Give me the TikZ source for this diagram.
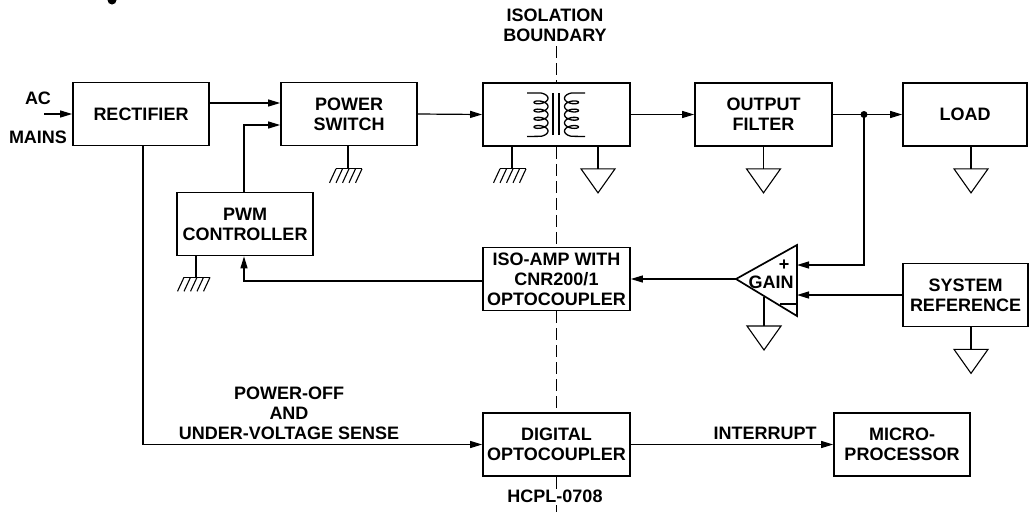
\documentclass[tikz,border=0pt]{standalone}
\usepackage{fontspec}
\setmainfont{Liberation Sans}
\usetikzlibrary{arrows.meta}
\tikzset{
  blockbox/.style={draw,line width=1.7pt,minimum height=63pt,inner sep=0pt,align=center,font=\labelfont},
  lab/.style={inner sep=0pt,align=center,font=\labelfont},
  sig/.style={line width=1.2pt,-{Triangle[length=12pt,width=7pt]}},
  wire/.style={line width=1.2pt},
  isoline/.style={line width=1pt,dash pattern=on 12pt off 5pt},
  trignd/.pic={\draw[line width=1.1pt] (-17,0) -- (17,0) -- (0,24) -- cycle;},
  hatchgnd/.pic={\draw[line width=1.2pt] (-12,0) -- (14,0);
    \foreach \xo in {-12,-5.5,1,7.5,14} \draw[line width=1.1pt] (\xo,0) -- ++(-6.5,14);}
}
\newcommand{\labelfont}{\fontsize{18}{20}\selectfont\bfseries}
\begin{document}
\begin{tikzpicture}[x=1pt,y=-1pt]
\useasboundingbox (0,0) rectangle (1031,512);
\fill (112,0) circle (4.5);
\node[blockbox,minimum width=136pt] (rect) at (141,114) {RECTIFIER};
\node[blockbox,minimum width=136pt] (sw) at (349,114) {POWER\\SWITCH};
\node[blockbox,minimum width=147pt] (xfmr) at (556.5,114.5) {};
\node[blockbox,minimum width=137pt] (filt) at (763.5,114.5) {OUTPUT\\FILTER};
\node[blockbox,minimum width=124pt] (load) at (965,114.5) {LOAD};
\node[blockbox,minimum width=136pt] (pwm) at (245,224) {PWM\\CONTROLLER};
\node[blockbox,minimum width=147pt] (iso) at (556.5,279) {ISO-AMP WITH\\CNR200/1\\OPTOCOUPLER};
\node[blockbox,minimum width=125pt] (ref) at (965.5,295) {SYSTEM\\REFERENCE};
\node[blockbox,minimum width=147pt] (dig) at (556.5,444.5) {DIGITAL\\OPTOCOUPLER};
\node[blockbox,minimum width=136pt] (micro) at (902,444.5) {MICRO-\\PROCESSOR};
% labels
\node[lab] (ac) at (38,98) {AC};
\node[lab] (mains) at (38,137) {MAINS};
\node[lab] (bound) at (555,25) {ISOLATION\\BOUNDARY};
\node[lab] (hcpl) at (555,496) {HCPL-0708};
\node[lab] (poweroff) at (289,413) {POWER-OFF\\AND\\UNDER-VOLTAGE SENSE};
\node[lab] (intr) at (765,433) {INTERRUPT};
% isolation boundary
\coordinate (isotop) at (556,46);
\coordinate (isobot) at (556,512);
\coordinate (isolow) at (556,505);
\draw[isoline] (isotop) -- (isotop |- xfmr.north);
\draw[isoline] (isotop |- xfmr.south) -- (isotop |- iso.north);
\draw[isoline] (isotop |- iso.south) -- (isotop |- dig.north);
\draw[isoline] (isotop |- dig.south) -- ++(0,12);
\draw[isoline] (isolow) -- (isobot);
% transformer
\draw[line width=1.3pt] (527,93) -- (541,93) plot[smooth,samples=109,domain=-90:1530,variable=\t]
  ({541+7*cos(\t)},{93+8.2*(\t+90)/360+3.2*(sin(\t)+1)}) -- (527,136.5);
\draw[line width=1.3pt] (585,93) -- (571.5,93) plot[smooth,samples=109,domain=-90:1530,variable=\t]
  ({571.5-7*cos(\t)},{93+8.2*(\t+90)/360+3.2*(sin(\t)+1)}) -- (585,136.5);
\draw[line width=1.3pt] (553,93) -- (553,135);
\draw[line width=1.3pt] (559,93) -- (559,135);
% gain block
\coordinate (amptip) at (736,279);
\coordinate (ampup) at (797,245);
\coordinate (ampdn) at (797,316);
\draw[line width=1.7pt] (amptip) -- (ampup) -- (ampdn) -- cycle;
\node[lab] (gain) at (771,282) {GAIN};
\node[lab] (plus) at (784,265) {+};
\draw[wire] (780,304) -- (ampdn |- 0,304);
% signals
\coordinate (acin) at (44,114);
\draw[sig] (acin) -- (rect.west);
\draw[sig] ([yshift=11pt]rect.east) -- ([yshift=11pt]sw.west);
\draw[sig] ([xshift=-1pt]pwm.north) |- ([yshift=-11pt]sw.west);
\draw[sig] (sw.east) -- (xfmr.west);
\draw[sig] (xfmr.east) -- (filt.west);
\draw[sig] (filt.east) -- (load.west);
\coordinate (tap) at (864,114.5);
\fill (tap) circle (3.5);
\draw[sig] (tap) |- (ampup |- 0,265);
\draw[sig] (ref.west) -- (ampup |- ref.west);
\draw[sig] (amptip) -- (iso.east);
\draw[sig] ([yshift=-2pt]iso.west) -| ([xshift=-1pt]pwm.south);
\draw[sig] ([xshift=2pt]rect.south) |- (dig.west);
\draw[sig] (dig.east) -- (micro.west);
% grounds
\draw[wire] ([xshift=-1pt]sw.south) -- ++(0,22.5) pic{hatchgnd};
\draw[wire] ([xshift=-49pt]pwm.south) -- ++(0,21) pic{hatchgnd};
\draw[wire] ([xshift=-44.5pt]xfmr.south) -- ++(0,22) pic{hatchgnd};
\draw[wire] ([xshift=41.5pt]xfmr.south) -- ++(0,22) pic{trignd};
\draw[wire] (filt.south) -- ++(0,22) pic{trignd};
\draw[wire] ([xshift=6pt]load.south) -- ++(0,22) pic{trignd};
\draw[wire] ([xshift=5.5pt]ref.south) -- ++(0,22) pic{trignd};
\coordinate (ampgnd) at (764,297);
\draw[wire] (ampgnd) -- ++(0,29) pic{trignd};
\end{tikzpicture}
\end{document}
